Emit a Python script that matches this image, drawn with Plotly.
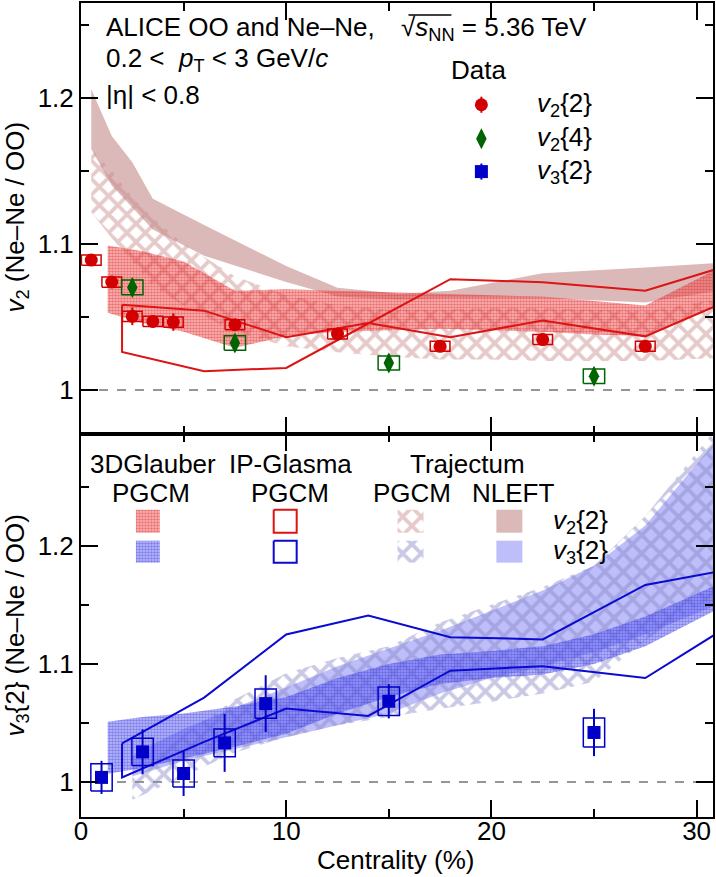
import plotly.graph_objects as go
from plotly.subplots import make_subplots

FONT = 'Liberation Sans, Arial, sans-serif'

# ---- ALICE data: Ne-Ne / OO ratios ----
cent_v22 = [0.5, 1.5, 2.5, 3.5, 4.5, 7.5, 12.5, 17.5, 22.5, 27.5]
v22 = [1.089, 1.074, 1.0505, 1.047, 1.0466, 1.0448, 1.0384, 1.030, 1.0346, 1.030]
v22_stat = [0.003, 0.003, 0.006, 0.004, 0.006, 0.004, 0.002, 0.002, 0.002, 0.002]
v22_sys = [0.0035, 0.0035, 0.0035, 0.0035, 0.0035, 0.0034, 0.0034, 0.0034, 0.0034, 0.0034]

cent_v24 = [2.5, 7.5, 15, 25]
v24 = [1.0703, 1.0323, 1.0186, 1.0095]
v24_stat = [0.006, 0.006, 0.006, 0.006]
v24_sys = [0.005, 0.005, 0.0048, 0.0049]

cent_v32 = [1, 3, 5, 7, 9, 15, 25]
v32 = [1.004, 1.0256, 1.0073, 1.0332, 1.0664, 1.0684, 1.042]
v32_stat = [0.014, 0.019, 0.019, 0.0245, 0.024, 0.0145, 0.020]
v32_sys = [0.0115, 0.0115, 0.0114, 0.0118, 0.0124, 0.012, 0.0122]

# ---- models, v2{2} ----
glau_cent_v2 = [1.3, 3, 5, 7.5, 10, 12.5, 15, 17.5, 20, 22.5, 25, 27.5, 31]
glau_lo_v2 = [1.053, 1.046, 1.040, 1.029, 1.037, 1.040, 1.041, 1.042, 1.041, 1.040, 1.038, 1.037, 1.057]
glau_hi_v2 = [1.099, 1.095, 1.088, 1.068, 1.069, 1.068, 1.067, 1.066, 1.065, 1.064, 1.061, 1.058, 1.083]

ipg_cent = [2, 6, 10, 14, 18, 22.5, 27.5, 31]
ipg_a_v2 = [1.0584, 1.0544, 1.0362, 1.0459, 1.0362, 1.0477, 1.0368, 1.058]
ipg_b_v2 = [1.0261, 1.013, 1.0152, 1.0456, 1.0759, 1.0739, 1.068, 1.083]

traj_cent_v2 = [0.5, 1.5, 2.5, 3.5, 5, 7.5, 10, 12.5, 15, 17.5, 20, 22.5, 25, 27.5, 31]
traj_lo_v2 = [1.122, 1.104, 1.088, 1.071, 1.058, 1.040, 1.030, 1.026, 1.023, 1.021, 1.021, 1.020, 1.020, 1.020, 1.022]
traj_hi_v2 = [1.165, 1.150, 1.132, 1.118, 1.100, 1.078, 1.065, 1.058, 1.055, 1.055, 1.056, 1.056, 1.055, 1.054, 1.062]

nleft_cent_v2 = [0.5, 1.5, 2.5, 3.5, 6, 10, 12.5, 15.5, 18, 22.5, 27.5, 31]
nleft_lo_v2 = [1.165, 1.140, 1.125, 1.110, 1.092, 1.074, 1.064, 1.062, 1.063, 1.063, 1.060, 1.068]
nleft_hi_v2 = [1.206, 1.174, 1.156, 1.131, 1.113, 1.085, 1.070, 1.066, 1.068, 1.080, 1.084, 1.087]

# ---- models, v3{2} ----
glau_cent_v3 = [1.3, 3, 5, 7.5, 10, 12.5, 15, 17.5, 20, 22.5, 25, 27.5, 31]
glau_lo_v3 = [1.007, 1.012, 1.020, 1.030, 1.041, 1.058, 1.072, 1.083, 1.088, 1.091, 1.100, 1.115, 1.146]
glau_hi_v3 = [1.051, 1.055, 1.058, 1.064, 1.072, 1.088, 1.100, 1.108, 1.111, 1.115, 1.125, 1.140, 1.167]

ipg_a_v3 = [1.0327, 1.0715, 1.1249, 1.141, 1.1226, 1.1207, 1.1668, 1.178]
ipg_b_v3 = [1.004, 1.034, 1.0622, 1.056, 1.0943, 1.0981, 1.088, 1.126]

traj_cent_v3 = [2.5, 5, 7.5, 10, 12.5, 15, 17.5, 20, 22.5, 25, 27.5, 31]
traj_lo_v3 = [0.985, 1.005, 1.025, 1.038, 1.048, 1.055, 1.062, 1.068, 1.075, 1.085, 1.120, 1.160]
traj_hi_v3 = [1.005, 1.040, 1.070, 1.092, 1.105, 1.115, 1.135, 1.150, 1.165, 1.183, 1.225, 1.300]

nleft_cent_v3 = [2.5, 3.5, 5, 7.5, 10, 12.5, 15, 17.5, 20, 22.5, 25, 27.5, 31]
nleft_lo_v3 = [1.005, 1.010, 1.018, 1.028, 1.038, 1.048, 1.058, 1.075, 1.088, 1.098, 1.110, 1.125, 1.150]
nleft_hi_v3 = [1.022, 1.032, 1.045, 1.063, 1.080, 1.098, 1.113, 1.128, 1.145, 1.162, 1.183, 1.217, 1.290]

RED = 'rgb(210,0,0)'
GREEN = 'rgb(0,100,0)'
BLUE = 'rgb(0,0,200)'
LRED = 'rgb(220,20,20)'
LBLUE = 'rgb(10,10,210)'
NONE = 'rgba(0,0,0,0)'

# band styles: [v2, v3]
NL_COL = ['rgba(185,115,115,0.5)', 'rgba(125,125,245,0.5)']
TR_COL = ['rgba(200,135,135,0.9)', 'rgba(135,135,200,0.9)']
GL_FG = ['rgba(225,25,25,0.9)', 'rgba(45,45,225,0.9)']
GL_BG = ['rgba(240,100,100,0.42)', 'rgba(110,110,240,0.42)']
LINE_COL = [LRED, LBLUE]

# pixel helpers (figure pixels -> axis / paper coords)
def xpx(p):
    return (p - 81) / 20.55

def ytop(p):
    return 1 + (389 - p) / 1464

def ybot(p):
    return 1 + (782 - p) / 1185

def paper(px, py):
    return (px - 81) / 633, (817 - py) / 816


def band(x, lo, hi):
    return list(x) + list(x)[::-1], list(hi) + list(lo)[::-1]


def boxes(x, y, dy, dx):
    bx, by = [], []
    for xi, yi, e in zip(x, y, dy):
        bx += [xi - dx, xi + dx, xi + dx, xi - dx, xi - dx, None]
        by += [yi - e, yi - e, yi + e, yi + e, yi - e, None]
    return bx, by


def hatch(col):
    return dict(shape='x', fgcolor=col, bgcolor=NONE, size=13, solidity=0.5)


def dots(fg, bg):
    return dict(shape='.', fgcolor=fg, bgcolor=bg, size=3, solidity=0.6)


fig = make_subplots(rows=2, cols=1, shared_xaxes=True, vertical_spacing=0,
                    row_heights=[432, 384])

def add_models(row, i, nl, tr, gl, ipa, ipb):
    x, y = band(*nl)
    fig.add_trace(go.Scatter(x=x, y=y, fill='toself', fillcolor=NL_COL[i], mode='none',
                             hoverinfo='skip'), row=row, col=1)
    x, y = band(*tr)
    fig.add_trace(go.Scatter(x=x, y=y, fill='toself', fillcolor=NONE, mode='none',
                             hoverinfo='skip', fillpattern=hatch(TR_COL[i])), row=row, col=1)
    x, y = band(*gl)
    fig.add_trace(go.Scatter(x=x, y=y, fill='toself', fillcolor=GL_BG[i], mode='none',
                             hoverinfo='skip', fillpattern=dots(GL_FG[i], GL_BG[i])),
                  row=row, col=1)
    x = ipg_cent + ipg_cent[::-1] + [ipg_cent[0]]
    y = ipa + ipb[::-1] + [ipa[0]]
    fig.add_trace(go.Scatter(x=x, y=y, mode='lines', line=dict(color=LINE_COL[i], width=2),
                             hoverinfo='skip'), row=row, col=1)


add_models(1, 0, (nleft_cent_v2, nleft_lo_v2, nleft_hi_v2),
           (traj_cent_v2, traj_lo_v2, traj_hi_v2),
           (glau_cent_v2, glau_lo_v2, glau_hi_v2),
           ipg_a_v2, ipg_b_v2)

add_models(2, 1, (nleft_cent_v3, nleft_lo_v3, nleft_hi_v3),
           (traj_cent_v3, traj_lo_v3, traj_hi_v3),
           (glau_cent_v3, glau_lo_v3, glau_hi_v3),
           ipg_a_v3, ipg_b_v3)

# systematic boxes
for x, y, s, dx, col, row in [(cent_v22, v22, v22_sys, 0.48, RED, 1),
                              (cent_v24, v24, v24_sys, 0.52, GREEN, 1),
                              (cent_v32, v32, v32_sys, 0.52, BLUE, 2)]:
    bx, by = boxes(x, y, s, dx)
    fig.add_trace(go.Scatter(x=bx, y=by, mode='lines', line=dict(color=col, width=1.5),
                             hoverinfo='skip'), row=row, col=1)

# data points
def err(arr, col):
    return dict(type='data', array=arr, color=col, thickness=2, width=0)

fig.add_trace(go.Scatter(x=cent_v22, y=v22, mode='markers', error_y=err(v22_stat, RED),
                         marker=dict(symbol='circle', size=13, color=RED)), row=1, col=1)
fig.add_trace(go.Scatter(x=cent_v24, y=v24, mode='markers', error_y=err(v24_stat, GREEN),
                         marker=dict(symbol='diamond-tall', size=15, color=GREEN)), row=1, col=1)
fig.add_trace(go.Scatter(x=cent_v32, y=v32, mode='markers', error_y=err(v32_stat, BLUE),
                         marker=dict(symbol='square', size=13, color=BLUE)), row=2, col=1)

# data legend markers
for py, sym, size, col in [(103, 'circle', 13, RED), (137, 'diamond-tall', 15, GREEN),
                           (170, 'square', 13, BLUE)]:
    fig.add_trace(go.Scatter(x=[xpx(482)], y=[ytop(py)], mode='markers',
                             error_y=err([0.0055], col),
                             marker=dict(symbol=sym, size=size, color=col)), row=1, col=1)

# model legend swatches (bottom panel)
def swatch(x0, x1, y0, y1):
    return ([xpx(x0), xpx(x1), xpx(x1), xpx(x0), xpx(x0)],
            [ybot(y0), ybot(y0), ybot(y1), ybot(y1), ybot(y0)])

rows_px = [(509, 532), (540, 562)]
for i, (y0, y1) in enumerate(rows_px):
    sx, sy = swatch(136, 160, y0, y1)
    fig.add_trace(go.Scatter(x=sx, y=sy, fill='toself', mode='none', fillcolor=GL_BG[i],
                             fillpattern=dots(GL_FG[i], GL_BG[i])), row=2, col=1)
    sx, sy = swatch(274, 297, y0, y1)
    fig.add_trace(go.Scatter(x=sx, y=sy, mode='lines', line=dict(color=LINE_COL[i], width=2)),
                  row=2, col=1)
    sx, sy = swatch(398, 424, y0, y1)
    fig.add_trace(go.Scatter(x=sx, y=sy, fill='toself', fillcolor=NONE, mode='none',
                             fillpattern=hatch(TR_COL[i])), row=2, col=1)
    sx, sy = swatch(497, 523, y0, y1)
    fig.add_trace(go.Scatter(x=sx, y=sy, fill='toself', mode='none', fillcolor=NL_COL[i]),
                  row=2, col=1)

# reference line at unity
for yref in ['y', 'y2']:
    fig.add_shape(type='line', xref='x domain', yref=yref, x0=0, x1=1, y0=1, y1=1,
                  line=dict(color='rgb(150,150,150)', width=2, dash='dash'), layer='below')

# texts
annots = []
def text(s, px, py, anchor='left', size=26, angle=0):
    xp, yp = paper(px, py)
    annots.append(dict(text=s, x=xp, y=yp, xref='paper', yref='paper', showarrow=False,
                       xanchor=anchor, yanchor='middle', textangle=angle,
                       font=dict(family=FONT, size=size, color='black')))

text('ALICE OO and Ne–Ne,', 104, 25)
text('√<i>s</i><sub>NN</sub> = 5.36 TeV', 400, 27)
text('0.2 <  <i>p</i><sub>T</sub> < 3 GeV/<i>c</i>', 104, 58)
text('|η| < 0.8', 104, 93)
text('Data', 479, 68, 'center')
text('<i>v</i><sub>2</sub>{2}', 536, 103)
text('<i>v</i><sub>2</sub>{4}', 536, 137)
text('<i>v</i><sub>3</sub>{2}', 536, 170)
text('3DGlauber', 153, 463, 'center')
text('IP-Glasma', 291, 463, 'center')
text('Trajectum', 468, 463, 'center')
text('PGCM', 151, 492, 'center')
text('PGCM', 290, 492, 'center')
text('PGCM', 413, 492, 'center')
text('NLEFT', 514, 492, 'center')
text('<i>v</i><sub>2</sub>{2}', 552, 521)
text('<i>v</i><sub>3</sub>{2}', 552, 551)
text('Centrality (%)', 396, 860, 'center')
text('<i>v</i><sub>2</sub> (Ne–Ne / OO)', 16, 216, 'center', angle=-90)
text('<i>v</i><sub>3</sub>{2} (Ne–Ne / OO)', 16, 625, 'center', angle=-90)

# overline of the square root
x0, y0 = paper(409, 13)
x1, _ = paper(452, 13)
fig.add_shape(type='line', xref='paper', yref='paper', x0=x0, x1=x1, y0=y0, y1=y0,
              line=dict(color='black', width=1.5))

axis_common = dict(showline=True, linecolor='black', linewidth=2, mirror='allticks',
                   ticks='inside', ticklen=17, tickwidth=2, tickcolor='black',
                   showgrid=False, zeroline=False,
                   tickfont=dict(family=FONT, size=26, color='black'))

fig.update_xaxes(range=[0, 30.8], dtick=10, tick0=0, ticklabelstandoff=-10,
                 minor=dict(ticks='inside', ticklen=8, tickwidth=2, tickcolor='black',
                            dtick=5, tick0=0, showgrid=False),
                 **axis_common)
fig.update_yaxes(tickvals=[1, 1.1, 1.2], ticktext=['1', '1.1', '1.2'],
                 minor=dict(ticks='inside', ticklen=8, tickwidth=2, tickcolor='black',
                            dtick=0.05, tick0=1, showgrid=False),
                 **axis_common)
fig.update_yaxes(range=[0.97, 1.265], row=1, col=1)
fig.update_yaxes(range=[0.9705, 1.2945], row=2, col=1)

fig.update_layout(width=716, height=877, margin=dict(l=81, r=2, t=1, b=60),
                  plot_bgcolor='white', paper_bgcolor='white', showlegend=False,
                  annotations=annots, font=dict(family=FONT))

fig.write_html('out.html', config={'displayModeBar': False},
               post_script="document.body.style.margin='0';")
